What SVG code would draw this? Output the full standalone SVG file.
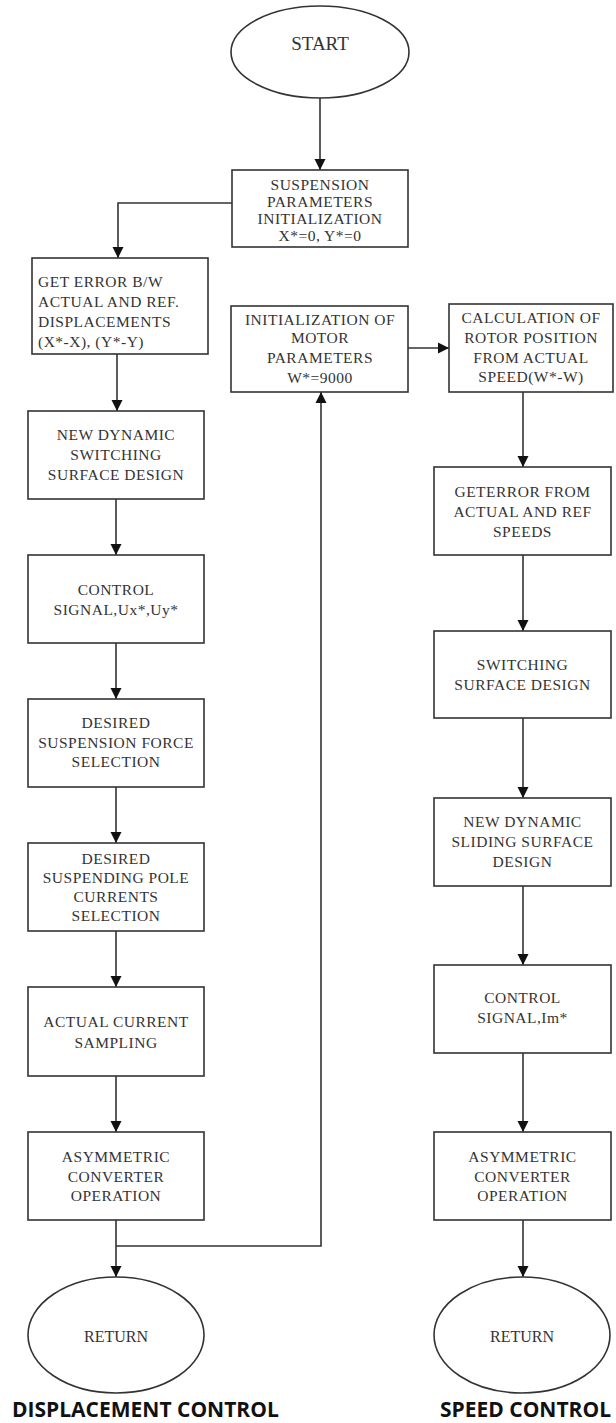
<svg xmlns="http://www.w3.org/2000/svg" width="616" height="1423" viewBox="0 0 616 1423">
<defs>
<style>
.b{fill:#fff;stroke:#333;stroke-width:1.6}
.t{font-family:"Liberation Serif",serif;font-size:15.5px;letter-spacing:0.5px;fill:#333;text-anchor:middle}
.tl{font-family:"Liberation Serif",serif;font-size:15.5px;letter-spacing:0.5px;fill:#333}
.big{font-family:"Liberation Serif",serif;font-size:19px;fill:#333;text-anchor:middle}
.ret{font-family:"Liberation Serif",serif;font-size:16px;fill:#333;text-anchor:middle}
.lab{font-family:"Open Sans",sans-serif;font-weight:bold;font-size:21px;fill:#111}
.c{fill:none;stroke:#333;stroke-width:1.6}
</style>
<marker id="ah" viewBox="0 0 10 10" refX="10" refY="5" markerWidth="7" markerHeight="7" markerUnits="strokeWidth" orient="auto">
<path d="M0,0 L10,5 L0,10 z" fill="#111"/>
</marker>
</defs>
<rect width="616" height="1423" fill="#fff"/>
<g id="connectors">
<path class="c" d="M320,98 V170" marker-end="url(#ah)"/>
<path class="c" d="M232,203 H118 V258" marker-end="url(#ah)"/>
<path class="c" d="M117,354 V411" marker-end="url(#ah)"/>
<path class="c" d="M116,499 V555" marker-end="url(#ah)"/>
<path class="c" d="M116,643 V699" marker-end="url(#ah)"/>
<path class="c" d="M116,787 V843" marker-end="url(#ah)"/>
<path class="c" d="M116,931 V987" marker-end="url(#ah)"/>
<path class="c" d="M116,1076 V1132" marker-end="url(#ah)"/>
<path class="c" d="M116,1220 V1277" marker-end="url(#ah)"/>
<path class="c" d="M116,1246 H321 V392" marker-end="url(#ah)"/>
<path class="c" d="M408,348 H449" marker-end="url(#ah)"/>
<path class="c" d="M523,392 V467" marker-end="url(#ah)"/>
<path class="c" d="M523,555 V631" marker-end="url(#ah)"/>
<path class="c" d="M523,718 V798" marker-end="url(#ah)"/>
<path class="c" d="M523,886 V965" marker-end="url(#ah)"/>
<path class="c" d="M523,1053 V1132" marker-end="url(#ah)"/>
<path class="c" d="M523,1220 V1277" marker-end="url(#ah)"/>
</g>
<g id="start">
<ellipse class="b" cx="320" cy="52" rx="89" ry="46"/>
<text class="big" x="320" y="50">START</text>
</g>
<g id="suspension-init">
<rect class="b" x="232" y="170" width="176" height="77"/>
<text class="t" x="320" y="190">SUSPENSION</text>
<text class="t" x="320" y="207">PARAMETERS</text>
<text class="t" x="320" y="224">INITIALIZATION</text>
<text class="t" x="320" y="241">X*=0, Y*=0</text>
</g>
<g id="get-error">
<rect class="b" x="32" y="258" width="176" height="96"/>
<text class="tl" x="38" y="287">GET ERROR B/W</text>
<text class="tl" x="38" y="307">ACTUAL AND REF.</text>
<text class="tl" x="38" y="327">DISPLACEMENTS</text>
<text class="tl" x="38" y="347">(X*-X), (Y*-Y)</text>
</g>
<g id="switching-surface-left">
<rect class="b" x="28" y="411" width="176" height="88"/>
<text class="t" x="116" y="440">NEW DYNAMIC</text>
<text class="t" x="116" y="460">SWITCHING</text>
<text class="t" x="116" y="480">SURFACE DESIGN</text>
</g>
<g id="control-signal-left">
<rect class="b" x="28" y="555" width="176" height="88"/>
<text class="t" x="116" y="595">CONTROL</text>
<text class="t" x="116" y="615">SIGNAL,Ux*,Uy*</text>
</g>
<g id="force-selection">
<rect class="b" x="28" y="699" width="176" height="88"/>
<text class="t" x="116" y="728">DESIRED</text>
<text class="t" x="116" y="748">SUSPENSION FORCE</text>
<text class="t" x="116" y="767">SELECTION</text>
</g>
<g id="pole-currents">
<rect class="b" x="28" y="843" width="176" height="88"/>
<text class="t" x="116" y="864">DESIRED</text>
<text class="t" x="116" y="883">SUSPENDING POLE</text>
<text class="t" x="116" y="902">CURRENTS</text>
<text class="t" x="116" y="921">SELECTION</text>
</g>
<g id="current-sampling">
<rect class="b" x="28" y="987" width="176" height="89"/>
<text class="t" x="116" y="1027">ACTUAL CURRENT</text>
<text class="t" x="116" y="1048">SAMPLING</text>
</g>
<g id="converter-left">
<rect class="b" x="28" y="1132" width="176" height="88"/>
<text class="t" x="116" y="1162">ASYMMETRIC</text>
<text class="t" x="116" y="1182">CONVERTER</text>
<text class="t" x="116" y="1201">OPERATION</text>
</g>
<g id="return-left">
<ellipse class="b" cx="116" cy="1335" rx="88" ry="58"/>
<text class="ret" x="116" y="1342">RETURN</text>
</g>
<g id="motor-init">
<rect class="b" x="231" y="306" width="177" height="86"/>
<text class="t" x="320" y="325">INITIALIZATION OF</text>
<text class="t" x="320" y="343">MOTOR</text>
<text class="t" x="320" y="363">PARAMETERS</text>
<text class="t" x="320" y="383">W*=9000</text>
</g>
<g id="rotor-position">
<rect class="b" x="449" y="304" width="164" height="88"/>
<text class="t" x="531" y="323">CALCULATION OF</text>
<text class="t" x="531" y="343">ROTOR POSITION</text>
<text class="t" x="531" y="363">FROM ACTUAL</text>
<text class="t" x="531" y="382">SPEED(W*-W)</text>
</g>
<g id="speed-error">
<rect class="b" x="434" y="467" width="177" height="88"/>
<text class="t" x="522.5" y="497">GETERROR FROM</text>
<text class="t" x="522.5" y="517">ACTUAL AND REF</text>
<text class="t" x="522.5" y="537">SPEEDS</text>
</g>
<g id="switching-surface-right">
<rect class="b" x="434" y="631" width="177" height="87"/>
<text class="t" x="522.5" y="670">SWITCHING</text>
<text class="t" x="522.5" y="690">SURFACE DESIGN</text>
</g>
<g id="sliding-surface">
<rect class="b" x="434" y="798" width="177" height="88"/>
<text class="t" x="522.5" y="827">NEW DYNAMIC</text>
<text class="t" x="522.5" y="847">SLIDING SURFACE</text>
<text class="t" x="522.5" y="867">DESIGN</text>
</g>
<g id="control-signal-right">
<rect class="b" x="434" y="965" width="177" height="88"/>
<text class="t" x="522.5" y="1003">CONTROL</text>
<text class="t" x="522.5" y="1023">SIGNAL,Im*</text>
</g>
<g id="converter-right">
<rect class="b" x="434" y="1132" width="177" height="88"/>
<text class="t" x="522.5" y="1162">ASYMMETRIC</text>
<text class="t" x="522.5" y="1182">CONVERTER</text>
<text class="t" x="522.5" y="1201">OPERATION</text>
</g>
<g id="return-right">
<ellipse class="b" cx="522" cy="1335" rx="88" ry="58"/>
<text class="ret" x="522" y="1342">RETURN</text>
</g>
<g id="labels">
<text class="lab" x="12" y="1417">DISPLACEMENT CONTROL</text>
<text class="lab" x="440" y="1417">SPEED CONTROL</text>
</g>
</svg>
